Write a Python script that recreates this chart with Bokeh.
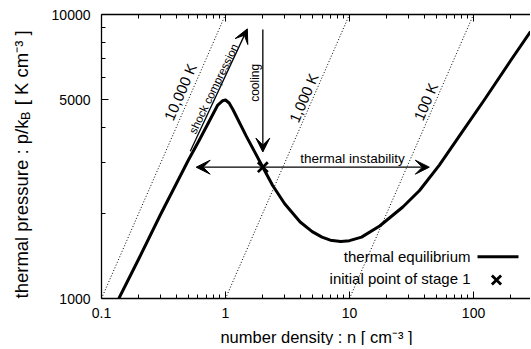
import math
from bokeh.plotting import figure
from bokeh.models import FixedTicker, CustomJSTickFormatter, LogAxis, Label, Arrow, VeeHead
from bokeh.embed import file_html
from bokeh.resources import INLINE

# ---------------- data ----------------
eq_n = [0.138, 0.2, 0.3, 0.4, 0.5, 0.617, 0.75, 0.866, 0.95, 1.0, 1.07, 1.15, 1.47,
        2.0, 2.4, 3.0, 4.0, 5.0, 6.0, 7.0, 8.5, 10, 12.5, 17.5, 26.9, 36.7, 53, 80,
        122, 200, 288]
eq_p = [1000, 1380, 1980, 2530, 3060, 3620, 4260, 4800, 4970, 5000, 4880, 4620, 3730,
        2900, 2500, 2155, 1860, 1720, 1645, 1605, 1588, 1598, 1645, 1800, 2100, 2400, 2950, 3830,
        5000, 6900, 8700]
iso_T = [10000, 1000, 100]
iso_labels = ["10,000 K", "1,000 K", "100 K"]
iso_p = [1000, 10000]
init_n = [2.0]
init_p = [2900]
shock_arrow = [(0.52, 3300), (1.5, 8900)]
cooling_arrow = [(2.0, 8850), (2.0, 3280)]
instab_arrow = [(0.58, 2900), (44, 2900)]
x_major = [0.1, 1, 10, 100]
x_minor = [0.2, 0.3, 0.4, 0.5, 0.6, 0.7, 0.8, 0.9, 2, 3, 4, 5, 6, 7, 8, 9,
           20, 30, 40, 50, 60, 70, 80, 90, 200]
y_major = [1000, 5000, 10000]
y_minor = [2000, 3000, 4000, 6000, 7000, 8000, 9000]
X_RANGE = (0.1, 288)
Y_RANGE = (1000, 10000)
x_title = "number density : n [ cm\u207b\u00b3 ]"
y_title_main = "thermal pressure : p/k"
y_title_sub = "B"
y_title_rest = "\u2002 [ K cm\u207b\u00b3 ]"

# ---------------- layout ----------------
OX, OY = 1, 1               # page position of the canvas origin
W, H = 530, 345
ML, MT = 101, 14
FH = 284
MB = H - MT - FH
FW = W - ML
PX0, PY0 = OX + ML, OY + MT   # page position of frame corner
FONT = "Liberation Sans"

LX = math.log10(X_RANGE[1]) - math.log10(X_RANGE[0])
LY = math.log10(Y_RANGE[1]) - math.log10(Y_RANGE[0])


def nx(px):
    return X_RANGE[0] * 10 ** ((px - PX0) / FW * LX)


def py_(py):
    return Y_RANGE[1] / 10 ** ((py - PY0) / FH * LY)


AW = {' ': 278, 'a': 556, 'b': 556, 'c': 500, 'd': 556, 'e': 556, 'f': 278, 'g': 556,
      'h': 556, 'i': 222, 'k': 500, 'l': 222, 'm': 833, 'n': 556, 'o': 556, 'p': 556,
      'r': 333, 's': 500, 't': 278, 'u': 556, 'y': 500, 'B': 667, 'K': 667, ':': 278,
      '/': 278, '[': 278, ']': 278, '-': 333, ',': 278, '.': 278}


def tw(s, size):
    return sum(AW.get(c, 556) for c in s) * size / 1000.0


p = figure(width=W, height=H, x_axis_type="log", y_axis_type="log",
           x_range=X_RANGE, y_range=Y_RANGE, output_backend="svg",
           toolbar_location=None, min_border_left=ML, min_border_right=0,
           min_border_top=MT, min_border_bottom=MB)
p.outline_line_color = None
p.grid.visible = False
p.background_fill_color = "white"

fmt = CustomJSTickFormatter(code="return tick.toString();")
blank = CustomJSTickFormatter(code="return '';")


def style_axis(ax, major, minor, labels=True):
    ax.ticker = FixedTicker(ticks=major, minor_ticks=minor)
    ax.major_tick_in = 7
    ax.major_tick_out = 0
    ax.minor_tick_in = 4
    ax.minor_tick_out = 0
    ax.axis_line_width = 1.3
    ax.major_tick_line_width = 1
    ax.minor_tick_line_width = 1
    ax.axis_line_color = "black"
    ax.major_tick_line_color = "black"
    ax.minor_tick_line_color = "black"
    ax.major_label_text_font = FONT
    ax.major_label_text_color = "black"
    ax.major_label_text_font_size = "14px"
    if labels:
        ax.formatter = fmt
    else:
        ax.formatter = blank
        ax.major_label_standoff = 0


style_axis(p.xaxis[0], x_major, x_minor)
p.xaxis[0].major_label_standoff = 9
style_axis(p.yaxis[0], y_major, y_minor)
p.yaxis[0].major_label_standoff = 11

top = LogAxis()
style_axis(top, x_major, x_minor, labels=False)
p.add_layout(top, "above")

# isotherms
for T in iso_T:
    p.line([v / T for v in iso_p], iso_p, line_color="black", line_width=1,
           line_dash="1 2")

# thermal equilibrium curve
p.line(eq_n, eq_p, line_color="black", line_width=3, line_join="round")


# arrows
def head():
    return VeeHead(size=14, line_color="black", fill_color="black", line_width=1)


p.add_layout(Arrow(end=head(), x_start=shock_arrow[0][0], y_start=shock_arrow[0][1],
                   x_end=shock_arrow[1][0], y_end=shock_arrow[1][1], line_width=1.3))
p.add_layout(Arrow(end=head(), x_start=cooling_arrow[0][0], y_start=cooling_arrow[0][1],
                   x_end=cooling_arrow[1][0], y_end=cooling_arrow[1][1], line_width=1.3))
p.add_layout(Arrow(start=head(), end=head(), x_start=instab_arrow[0][0], y_start=instab_arrow[0][1],
                   x_end=instab_arrow[1][0], y_end=instab_arrow[1][1], line_width=1.3))

# initial point
p.scatter(init_n, init_p, marker="x", size=14, line_width=2.8, line_color="black")


def lab(text, px, py, size, angle_deg=0, align="center", baseline="middle"):
    p.add_layout(Label(x=nx(px), y=py_(py), text=text, text_font=FONT,
                       text_font_size=f"{size}px", text_color="black",
                       angle=math.radians(angle_deg), text_align=align,
                       text_baseline=baseline))


def clab(text, px, py, size, side, angle_deg=0, align="left", baseline="alphabetic"):
    # label placed in canvas pixels, living in a side panel (outside the frame)
    p.add_layout(Label(x=px - OX, y=py - OY, x_units="canvas", y_units="canvas",
                       text=text, text_font=FONT,
                       text_font_size=f"{size}px", text_color="black",
                       angle=math.radians(angle_deg), text_align=align,
                       text_baseline=baseline), side)


# isotherm labels
iso_pos = [(180.8, 92.5), (304.2, 98.3), (426.2, 102)]
for t, (px, py) in zip(iso_labels, iso_pos):
    lab(t, px, py, 15, 66.4)

lab("shock compression", 214.2, 89.2, 11.5, 64)
lab("cooling", 255, 83.3, 12, 90)
lab("thermal instability", 353, 158.5, 13.5)

# legend
lab("thermal equilibrium", 471, 257, 15, align="right")
lab("initial point of stage 1", 471, 278.5, 15, align="right")
p.line([nx(478), nx(519)], [py_(257.3)] * 2, line_color="black", line_width=3)
p.scatter([nx(497)], [py_(280.5)], marker="x", size=13, line_width=2.8, line_color="black")

# axis titles (one label per side panel, so the frame keeps its size)
clab(x_title, 317, 337, 16.5, "below", align="center")
YS = 18.5
clab(y_title_main + y_title_rest, 22, 299, YS, "left", 90)
clab(y_title_sub, 26, 299 - tw(y_title_main, YS) + 0.5, 12.5, "left", 90)

open("out.html", "w").write(file_html(p, INLINE))
